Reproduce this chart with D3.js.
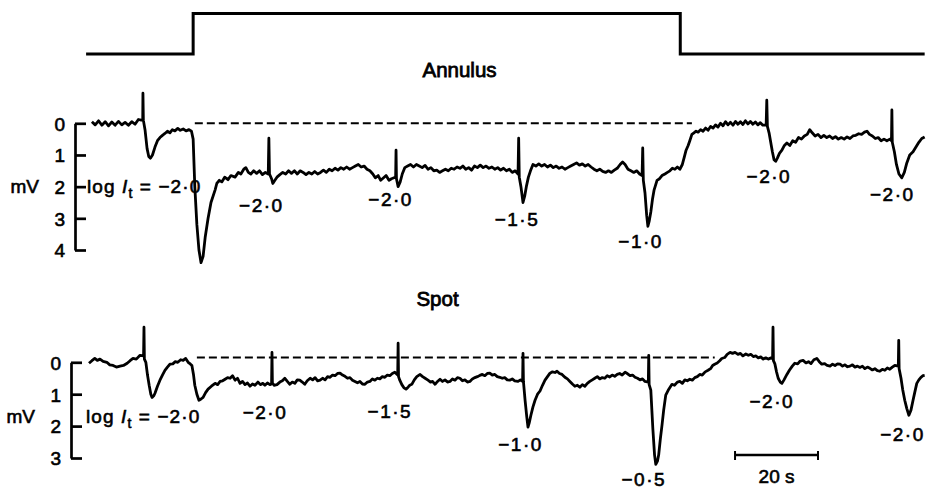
<!DOCTYPE html>
<html>
<head>
<meta charset="utf-8">
<script src="https://cdn.jsdelivr.net/npm/d3@7"></script>
<style>
  html, body { margin: 0; padding: 0; background: #fff; }
  svg { display: block; }
  text { font-family: "Liberation Sans", Arial, sans-serif; fill: #000; }
</style>
</head>
<body>
<svg id="chart" width="927" height="491"></svg>
<script>
// ---------------- DATA ----------------
// time in seconds, potential in mV (positive = downward deflection as plotted)
const stimTime  = [-0.7, 25.1, 142.5, 201.4];
const stimLevel = [0, 1, 0, 0];

const annulusTrace = [[0.7,-0.05],[1.5,0.05],[2.3,-0.08],[3.1,0.06],[3.9,-0.05],[4.7,0.08],[5.5,-0.04],[6.3,0.06],[7.1,-0.06],[7.9,0.05],[8.7,-0.03],[9.5,0.06],[10.3,-0.05],[11.1,0.03],[11.9,-0.12],[12.6,-0.1],[12.95,-0.1],[13.0,-0.95],[13.1,-0.1],[13.5,0.2],[14.0,0.8],[14.4,1.05],[14.8,1.1],[15.3,1.0],[15.9,0.75],[16.5,0.55],[17.1,0.45],[17.7,0.38],[18.3,0.32],[18.9,0.25],[19.5,0.3],[20.1,0.2],[20.7,0.24],[21.4,0.16],[22.0,0.22],[22.7,0.18],[23.4,0.24],[24.1,0.2],[24.7,0.25],[25.1,0.5],[25.5,2.0],[26.0,3.2],[26.5,4.0],[27.0,4.4],[27.5,4.2],[28.0,3.6],[28.7,3.0],[29.4,2.5],[30.4,2.1],[30.8,1.9],[31.4,1.8],[32.0,1.85],[32.7,1.7],[33.5,1.78],[34.2,1.65],[35.2,1.7],[36.0,1.55],[36.6,1.6],[37.3,1.45],[37.8,1.4],[38.4,1.55],[39.0,1.6],[39.7,1.5],[40.4,1.58],[41.1,1.5],[41.8,1.62],[42.5,1.55],[43.2,1.6],[43.35,0.47],[43.5,1.6],[44.0,1.75],[44.3,1.9],[44.8,1.8],[45.3,1.7],[46.0,1.62],[46.7,1.55],[47.4,1.6],[48.1,1.5],[48.8,1.58],[49.5,1.5],[50.2,1.6],[50.9,1.5],[51.6,1.55],[52.3,1.62],[53.0,1.55],[53.7,1.6],[54.4,1.52],[55.1,1.6],[55.8,1.55],[56.5,1.48],[57.2,1.55],[57.9,1.45],[58.6,1.5],[59.3,1.42],[60.0,1.48],[60.7,1.4],[61.4,1.45],[62.1,1.38],[62.8,1.45],[63.5,1.4],[64.2,1.35],[64.9,1.3],[65.6,1.38],[66.3,1.35],[67.0,1.45],[67.7,1.5],[68.4,1.6],[69.0,1.72],[69.7,1.65],[70.3,1.8],[71.0,1.72],[71.6,1.65],[72.3,1.8],[72.9,1.75],[73.5,1.72],[73.9,1.7],[74.0,0.85],[74.1,1.75],[74.5,2.0],[75.0,1.85],[75.5,1.6],[76.1,1.4],[76.8,1.35],[77.5,1.3],[78.2,1.38],[78.9,1.3],[79.6,1.35],[80.3,1.4],[81.0,1.33],[81.7,1.45],[82.4,1.4],[83.1,1.5],[83.8,1.48],[84.5,1.55],[85.2,1.5],[85.9,1.45],[86.6,1.5],[87.3,1.42],[88.0,1.45],[88.7,1.38],[89.4,1.42],[90.1,1.35],[90.8,1.45],[91.5,1.4],[92.2,1.48],[92.9,1.35],[93.6,1.4],[94.3,1.32],[95.0,1.4],[95.7,1.35],[96.4,1.42],[97.1,1.38],[97.8,1.45],[98.5,1.4],[99.2,1.48],[99.9,1.42],[100.6,1.5],[101.3,1.45],[102.0,1.55],[102.7,1.5],[103.4,1.6],[103.55,0.47],[103.7,1.7],[104.1,2.0],[104.6,2.5],[105.0,2.3],[105.4,2.0],[105.9,1.7],[106.4,1.5],[107.0,1.3],[107.7,1.35],[108.4,1.28],[109.1,1.35],[109.8,1.3],[110.5,1.38],[111.2,1.32],[111.9,1.4],[112.6,1.35],[113.3,1.42],[114.0,1.38],[114.7,1.45],[115.4,1.4],[116.1,1.35],[116.8,1.3],[117.5,1.25],[118.2,1.32],[118.9,1.28],[119.6,1.35],[120.3,1.3],[121.0,1.38],[121.7,1.45],[122.4,1.5],[123.1,1.45],[123.8,1.52],[124.5,1.55],[125.2,1.5],[125.9,1.55],[126.6,1.48],[127.3,1.42],[128.0,1.3],[128.6,1.22],[129.2,1.3],[129.9,1.45],[130.6,1.5],[131.3,1.55],[132.0,1.5],[132.7,1.6],[133.3,1.65],[133.45,0.78],[133.6,1.8],[134.0,2.2],[134.4,2.9],[134.7,3.25],[135.0,3.1],[135.4,2.8],[135.8,2.4],[136.2,2.1],[136.9,1.8],[137.5,1.75],[138.1,1.65],[138.8,1.6],[139.4,1.55],[140.0,1.5],[140.6,1.42],[141.2,1.45],[141.8,1.38],[142.4,1.45],[143.0,1.3],[143.5,1.05],[143.9,0.85],[144.4,0.7],[144.8,0.55],[145.3,0.35],[145.8,0.3],[146.3,0.25],[146.8,0.28],[147.4,0.2],[148.0,0.25],[148.6,0.15],[149.2,0.22],[149.8,0.1],[150.4,0.15],[151.0,0.05],[151.6,0.12],[152.2,0.0],[152.8,0.08],[153.4,-0.05],[154.0,0.05],[154.6,-0.03],[155.2,0.06],[155.8,-0.06],[156.4,0.03],[157.0,-0.05],[157.6,0.04],[158.2,-0.08],[158.8,0.02],[159.4,-0.06],[160.0,0.03],[160.6,-0.04],[161.2,0.05],[161.8,-0.02],[162.4,0.06],[163.2,0.05],[163.35,-0.73],[163.5,0.1],[163.9,0.3],[164.3,0.6],[164.7,0.9],[165.1,1.15],[165.5,1.2],[165.9,1.1],[166.4,0.95],[167.0,0.85],[167.6,0.7],[168.2,0.62],[168.9,0.7],[169.6,0.55],[170.3,0.6],[171.0,0.45],[171.7,0.5],[172.4,0.4],[173.1,0.35],[173.7,0.2],[174.3,0.3],[175.0,0.4],[175.7,0.35],[176.4,0.45],[177.1,0.38],[177.8,0.45],[178.5,0.4],[179.2,0.48],[179.9,0.42],[180.6,0.5],[181.3,0.45],[182.0,0.5],[182.7,0.43],[183.4,0.48],[184.1,0.4],[184.8,0.38],[185.5,0.33],[186.2,0.35],[186.9,0.28],[187.5,0.25],[188.1,0.35],[188.8,0.4],[189.5,0.48],[190.2,0.45],[190.9,0.55],[191.6,0.5],[192.3,0.55],[193.0,0.5],[193.4,0.55],[193.5,-0.42],[193.6,0.6],[194.1,0.9],[194.6,1.3],[195.2,1.6],[195.9,1.72],[196.5,1.55],[197.1,1.25],[197.8,1.0],[198.6,0.9],[199.3,0.75],[200.0,0.6],[200.7,0.48],[201.4,0.43]];

const spotTrace = [[0,0.03],[0.7,-0.05],[1.4,-0.12],[2.0,-0.06],[2.65,-0.1],[3.4,-0.03],[4.3,0.0],[5.0,0.08],[5.8,0.1],[6.6,0.15],[7.5,0.12],[8.3,0.1],[9.2,0.03],[9.9,-0.05],[10.6,-0.12],[11.4,-0.1],[12.3,-0.22],[13.15,-0.2],[13.25,-1.1],[13.35,-0.1],[13.7,0.0],[14.1,0.4],[14.5,0.72],[14.9,1.0],[15.2,1.1],[15.6,1.05],[15.9,0.97],[16.5,0.75],[17.1,0.56],[17.7,0.4],[18.3,0.25],[18.9,0.15],[19.5,0.06],[20.2,0.05],[20.8,-0.02],[21.4,0.0],[22.1,-0.08],[22.7,-0.06],[23.3,-0.12],[23.9,0.0],[24.4,0.05],[24.8,0.1],[25.2,0.4],[25.5,0.72],[26.0,1.0],[26.5,1.19],[27.0,1.15],[27.5,1.1],[28.1,0.95],[28.7,0.84],[29.5,0.75],[30.4,0.66],[31.0,0.7],[31.6,0.6],[32.2,0.58],[32.8,0.53],[33.4,0.48],[34.0,0.5],[34.6,0.42],[35.2,0.56],[35.8,0.5],[36.4,0.66],[37.0,0.6],[37.6,0.7],[38.2,0.65],[38.8,0.75],[39.4,0.68],[40.0,0.72],[40.7,0.62],[41.3,0.7],[41.9,0.66],[42.4,0.72],[43.0,0.65],[43.6,0.7],[44.0,0.68],[44.1,-0.31],[44.2,0.65],[44.6,0.72],[45.3,0.7],[46.0,0.62],[46.6,0.58],[47.2,0.5],[47.8,0.6],[48.4,0.69],[49.0,0.62],[49.6,0.66],[50.2,0.55],[50.8,0.56],[51.4,0.62],[52.0,0.69],[52.6,0.58],[53.3,0.5],[53.9,0.55],[54.5,0.48],[55.1,0.58],[55.7,0.56],[56.3,0.5],[56.9,0.55],[57.5,0.45],[58.1,0.47],[58.7,0.4],[59.3,0.42],[59.9,0.35],[60.5,0.34],[61.1,0.4],[61.7,0.44],[62.3,0.5],[62.9,0.48],[63.5,0.56],[64.1,0.6],[64.7,0.64],[65.3,0.6],[65.9,0.68],[66.5,0.69],[67.1,0.62],[67.7,0.6],[68.3,0.52],[68.9,0.56],[69.5,0.5],[70.1,0.52],[70.7,0.45],[71.3,0.47],[71.9,0.4],[72.5,0.42],[73.1,0.35],[73.7,0.31],[74.4,0.4],[74.5,-0.6],[74.6,0.45],[74.9,0.56],[75.4,0.7],[75.9,0.8],[76.4,0.84],[76.9,0.78],[77.3,0.72],[77.8,0.69],[78.4,0.55],[79.0,0.45],[79.8,0.38],[80.4,0.45],[81.0,0.5],[81.7,0.56],[82.3,0.62],[82.8,0.6],[83.4,0.69],[84.0,0.6],[84.6,0.53],[85.2,0.6],[85.8,0.55],[86.4,0.62],[87.0,0.6],[87.6,0.52],[88.2,0.56],[88.8,0.48],[89.4,0.5],[90.0,0.58],[90.6,0.55],[91.2,0.62],[91.8,0.6],[92.4,0.52],[93.0,0.48],[93.6,0.45],[94.2,0.41],[94.8,0.38],[95.4,0.42],[96.0,0.35],[96.6,0.34],[97.2,0.4],[97.8,0.38],[98.4,0.45],[99.0,0.47],[99.6,0.5],[100.2,0.48],[100.8,0.55],[101.4,0.56],[102.0,0.52],[102.6,0.58],[103.4,0.6],[104.0,0.55],[104.5,0.6],[104.6,-0.28],[104.7,0.6],[105.1,1.19],[105.5,1.7],[105.8,2.03],[106.1,1.9],[106.5,1.66],[107.0,1.4],[107.5,1.19],[108.1,1.0],[108.7,0.9],[109.3,0.72],[109.9,0.56],[110.5,0.45],[111.1,0.34],[111.7,0.3],[112.3,0.32],[112.8,0.28],[113.4,0.35],[114.0,0.38],[114.7,0.47],[115.3,0.52],[115.9,0.6],[116.5,0.68],[117.1,0.75],[117.7,0.72],[118.3,0.78],[118.9,0.7],[119.5,0.75],[120.1,0.66],[120.7,0.6],[121.3,0.55],[121.9,0.5],[122.5,0.45],[123.1,0.52],[123.7,0.48],[124.3,0.5],[124.9,0.42],[125.5,0.46],[126.1,0.4],[126.7,0.44],[127.3,0.38],[127.9,0.35],[128.5,0.4],[129.2,0.31],[129.8,0.36],[130.4,0.42],[131.0,0.4],[131.6,0.47],[132.2,0.5],[132.8,0.55],[133.4,0.52],[134.0,0.6],[134.8,0.62],[134.9,-0.22],[135.0,0.7],[135.4,0.87],[135.9,2.1],[136.3,2.9],[136.6,3.2],[137.0,3.1],[137.3,2.9],[137.7,2.4],[138.1,1.97],[138.5,1.5],[139.0,1.03],[139.7,0.85],[140.5,0.69],[141.1,0.72],[141.8,0.62],[142.4,0.6],[143.0,0.66],[143.6,0.55],[144.2,0.58],[144.8,0.53],[145.4,0.56],[146.0,0.48],[146.6,0.45],[147.2,0.38],[147.8,0.4],[148.5,0.3],[149.2,0.25],[149.8,0.2],[150.3,0.1],[150.8,0.06],[151.4,0.02],[152.0,-0.05],[152.5,-0.12],[153.2,-0.15],[153.8,-0.25],[154.5,-0.31],[155.1,-0.28],[155.7,-0.31],[156.4,-0.25],[157.0,-0.28],[157.6,-0.2],[158.3,-0.26],[158.9,-0.22],[159.5,-0.25],[160.1,-0.18],[160.7,-0.2],[161.3,-0.14],[161.9,-0.17],[162.5,-0.1],[163.1,-0.14],[163.7,-0.1],[164.4,-0.14],[164.75,-0.12],[164.85,-1.1],[164.95,-0.05],[165.3,0.05],[165.7,0.3],[166.1,0.5],[166.6,0.62],[167.0,0.66],[167.5,0.55],[168.2,0.38],[168.8,0.25],[169.5,0.12],[170.1,0.03],[170.8,0.05],[171.4,-0.04],[172.1,-0.06],[172.8,0.02],[173.4,-0.02],[174.0,0.04],[174.7,-0.08],[175.4,-0.12],[176.0,-0.02],[176.6,0.06],[177.3,0.04],[177.9,0.1],[178.6,0.12],[179.2,0.06],[179.8,0.1],[180.4,0.05],[181.0,0.06],[181.6,0.12],[182.2,0.08],[182.8,0.14],[183.4,0.12],[184.0,0.08],[184.6,0.15],[185.2,0.12],[185.8,0.16],[186.4,0.12],[187.0,0.2],[187.6,0.15],[188.2,0.19],[188.8,0.24],[189.4,0.2],[190.0,0.26],[190.6,0.28],[191.2,0.22],[191.8,0.25],[192.4,0.18],[193.0,0.22],[193.6,0.15],[194.2,0.1],[195.05,0.12],[195.15,-0.69],[195.25,0.2],[195.7,0.5],[196.1,0.85],[196.6,1.19],[197.1,1.45],[197.6,1.66],[198.1,1.5],[198.6,1.19],[199.0,0.95],[199.5,0.66],[200.0,0.55],[200.5,0.47],[201.0,0.42],[201.4,0.41]];

const annulusTicks = [0, 1, 2, 3, 4];
const spotTicks = [0, 1, 2, 3];

// flash intensity labels (log I_t) and the flash they belong to
const annulusFlashTimes  = [25.1, 43.35, 74.0, 103.55, 133.45, 163.35, 193.5];
const annulusFlashLabels = ["−2·0", "−2·0", "−2·0", "−1·5", "−1·0", "−2·0", "−2·0"];
const spotFlashTimes  = [25.1, 44.1, 74.5, 104.6, 134.9, 164.85, 195.15];
const spotFlashLabels = ["−2·0", "−2·0", "−1·5", "−1·0", "−0·5", "−2·0", "−2·0"];

const dashAnnulus = [25.5, 145.3];   // reference (0 mV) line, seconds
const dashSpot = [26.0, 150.8];
const dashSpotLevel = -0.15;
const scaleBarSeconds = 20;
const scaleBarStart = 155.7;

// ---------------- DRAWING ----------------
const svg = d3.select("#chart");
svg.append("rect").attr("width", 927).attr("height", 491).attr("fill", "#fff");

const x = d3.scaleLinear().domain([0, 201]).range([89, 923]);
const yStim = d3.scaleLinear().domain([0, 1]).range([54, 13.5]);
const yA = d3.scaleLinear().domain([0, 4]).range([123.3, 250]);
const yS = d3.scaleLinear().domain([0, 3]).range([362.3, 458]);

const FS = 19;
const TSW = 0.6;
function txt(sel) {
  return sel.attr("font-size", FS).attr("stroke", "#000").attr("stroke-width", TSW);
}

// stimulus trace
svg.append("path")
  .datum(stimTime.map((t, i) => [t, stimLevel[i]]))
  .attr("d", d3.line().x(d => x(d[0])).y(d => yStim(d[1])).curve(d3.curveStepAfter))
  .attr("fill", "none").attr("stroke", "#000").attr("stroke-width", 3);

// titles
txt(svg.append("text").attr("x", x(89.3)).attr("y", 77).attr("text-anchor", "middle").text("Annulus")).attr("font-size", 20.5).attr("stroke-width", 0.8);
txt(svg.append("text").attr("x", x(84.0)).attr("y", 306).attr("text-anchor", "middle").text("Spot")).attr("font-size", 20.5).attr("stroke-width", 0.8);

function panel(trace, y, ticks, axisX, mvY, dash, dashLevel) {
  const g = svg.append("g");
  // axis (bracket)
  const ax = d3.axisLeft(y).tickValues(ticks).tickSizeInner(-11).tickSizeOuter(0)
    .tickPadding(10).tickFormat(d3.format("d"));
  const ga = g.append("g").attr("transform", `translate(${axisX},0)`).call(ax);
  ga.select(".domain").attr("stroke-width", 2.7).attr("stroke", "#000");
  ga.selectAll(".tick line").attr("stroke-width", 2.7).attr("stroke", "#000");
  ga.selectAll(".tick text").attr("font-family", '"Liberation Sans", Arial, sans-serif')
    .attr("font-size", FS).attr("fill", "#000").attr("stroke", "#000").attr("stroke-width", TSW)
    .attr("dy", "0.36em");
  txt(g.append("text").attr("x", axisX - 36).attr("y", y(mvY)).attr("dy", "0.36em")
    .attr("text-anchor", "end").text("mV"));
  // dashed zero line
  g.append("line").attr("x1", x(dash[0])).attr("x2", x(dash[1]))
    .attr("y1", y(dashLevel)).attr("y2", y(dashLevel))
    .attr("stroke", "#000").attr("stroke-width", 2).attr("stroke-dasharray", "8,4");
  // trace
  g.append("path").datum(trace)
    .attr("d", d3.line().x(d => x(d[0])).y(d => y(d[1])))
    .attr("fill", "none").attr("stroke", "#000").attr("stroke-width", 2.8)
    .attr("stroke-linejoin", "round");
  return g;
}

panel(annulusTrace, yA, annulusTicks, 75, 2, dashAnnulus, 0);
panel(spotTrace, yS, spotTicks, 71, 1.7, dashSpot, dashSpotLevel);

// label positions: [dx seconds from flash, mV level of baseline]
const annLabelPos = [null, [-1.8, 2.8], [-1.3, 2.6], [-0.4, 3.25], [-0.5, 3.95], [0.5, 1.9], [0.1, 2.45]];
const spotLabelPos = [null, [-1.7, 1.78], [-2.0, 1.75], [-0.6, 2.78], [-1.2, 3.87], [-0.3, 1.43], [0.9, 2.47]];

function logLabel(xPos, yPos, value) {
  const t = txt(svg.append("text").attr("x", xPos).attr("y", yPos).attr("letter-spacing", 1.1));
  t.append("tspan").text("log ");
  t.append("tspan").attr("font-style", "italic").text("I");
  t.append("tspan").attr("font-size", 14).attr("dy", 5).text("t");
  t.append("tspan").attr("dy", -5).text(" = " + value);
}

logLabel(87, yA(2) + 6, annulusFlashLabels[0]);
logLabel(86, yS(1.7) + 6, spotFlashLabels[0]);

annulusFlashLabels.forEach((lab, i) => {
  if (i === 0) return;
  const p = annLabelPos[i];
  txt(svg.append("text").attr("x", x(annulusFlashTimes[i] + p[0])).attr("y", yA(p[1]))
    .attr("text-anchor", "middle").attr("letter-spacing", 1.5).text(lab));
});
spotFlashLabels.forEach((lab, i) => {
  if (i === 0) return;
  const p = spotLabelPos[i];
  txt(svg.append("text").attr("x", x(spotFlashTimes[i] + p[0])).attr("y", yS(p[1]))
    .attr("text-anchor", "middle").attr("letter-spacing", 1.5).text(lab));
});

// time scale bar
const sb = svg.append("g");
const sbY = 455;
sb.append("line").attr("x1", x(scaleBarStart)).attr("x2", x(scaleBarStart + scaleBarSeconds))
  .attr("y1", sbY).attr("y2", sbY).attr("stroke", "#000").attr("stroke-width", 2.7);
[scaleBarStart, scaleBarStart + scaleBarSeconds].forEach(t => {
  sb.append("line").attr("x1", x(t)).attr("x2", x(t)).attr("y1", sbY - 4).attr("y2", sbY + 5)
    .attr("stroke", "#000").attr("stroke-width", 2);
});
txt(sb.append("text").attr("x", x(scaleBarStart + scaleBarSeconds / 2)).attr("y", 483)
  .attr("text-anchor", "middle").text(scaleBarSeconds + " s"));
</script>
</body>
</html>
